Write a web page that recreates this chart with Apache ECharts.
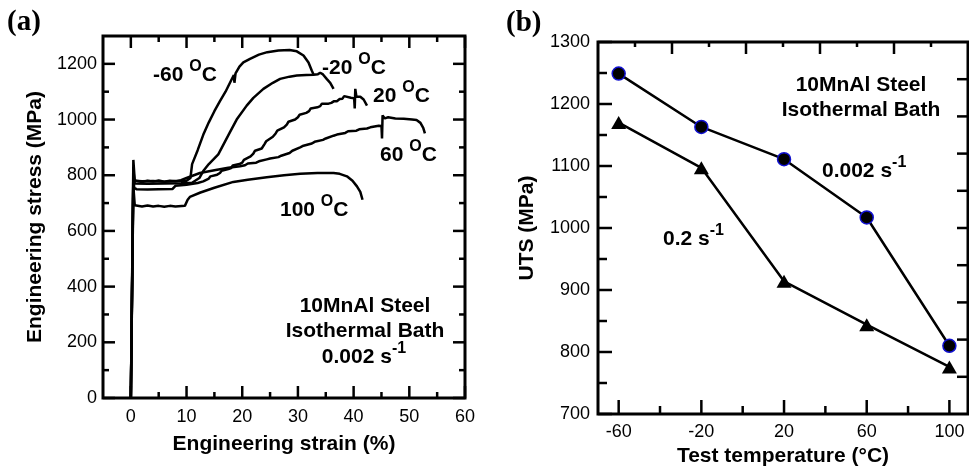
<!DOCTYPE html>
<html>
<head>
<meta charset="utf-8">
<script src="https://cdn.jsdelivr.net/npm/echarts@6/dist/echarts.min.js"></script>
<style>
    html, body {margin: 0; padding: 0; background: #fff;}
    #chart {width: 969px; height: 472px;}
</style>
</head>
<body>
<div id="chart"></div>
<script>
// (a) engineering stress-strain curves, [strain %, stress MPa]
let curveM60 = [[0, 0], [0.45, 855], [0.7, 780], [2, 778], [4, 779], [6, 777], [8, 779], [10, 780], [10.7, 790],
    [11, 840], [12, 890], [13, 945], [14, 990], [15, 1030], [16, 1066], [17, 1100], [18, 1140], [18.5, 1160],
    [18.6, 1132], [18.8, 1166], [19.5, 1190], [20.2, 1205], [21.4, 1218], [23, 1233], [24.5, 1242], [26.5, 1248],
    [28.5, 1250], [29.8, 1245], [31, 1230], [31.9, 1205], [32.5, 1175], [32.8, 1162]];
let curveM20 = [[0, 0], [0.45, 820], [0.7, 770], [3, 769], [6, 770], [9, 771], [11, 773], [12.3, 790], [13, 815],
    [14, 840], [15.7, 875], [17.8, 955], [19, 1000], [20.8, 1050], [22, 1078], [23.8, 1110], [25.5, 1132],
    [26.8, 1146], [28.5, 1154], [29.8, 1158], [31.5, 1160], [32.8, 1161], [33.6, 1163], [34, 1168], [34.5, 1162],
    [35.2, 1145], [35.8, 1132], [36.4, 1110]];
let curve20 = [[0, 0], [0.45, 800], [0.6, 755], [1, 750], [3, 749], [5, 750], [7.5, 751], [8, 762], [10, 766],
    [12, 772], [13, 778], [14, 788], [14.3, 796], [14.5, 790], [15.5, 802], [16, 808], [16.3, 816], [16.5, 810],
    [17.5, 822], [18, 826], [18.3, 835], [18.5, 829], [19.5, 840], [20, 845], [20.3, 855], [20.5, 850], [21.5, 868],
    [22, 878], [22.3, 888], [22.5, 881], [23.5, 896], [24, 912], [24.3, 922], [24.5, 916], [25.5, 938], [26, 950],
    [26.3, 960], [26.5, 954], [27.5, 972], [28, 982], [28.3, 992], [28.5, 986], [29.5, 1000], [30, 1008],
    [30.3, 1017], [30.5, 1011], [31.5, 1024], [32, 1030], [32.3, 1040], [32.5, 1033], [33.5, 1044], [34, 1048],
    [34.3, 1057], [34.5, 1051], [35.5, 1057], [36, 1060], [36.5, 1066], [37, 1066], [37.5, 1074], [38, 1075],
    [38.3, 1084], [38.5, 1077], [39.5, 1078], [40.1, 1076], [40.2, 1040], [40.3, 1110], [40.5, 1082],
    [41.2, 1082], [41.8, 1072], [42.4, 1050]];
let curve60 = [[0, 0], [0.45, 790], [0.6, 782], [1, 780], [2, 776], [3, 780], [4, 777], [5, 781], [6, 777],
    [7, 780], [8, 778], [9, 782], [10, 790], [12.4, 808], [15, 818], [17.5, 827], [19.6, 832], [20.5, 836],
    [21, 842], [21.3, 837], [22.5, 845], [23, 850], [23.3, 845], [24.4, 857], [25, 860], [25.3, 856], [26.5, 865],
    [27, 870], [27.3, 866], [28.5, 880], [29, 888], [29.3, 884], [30.4, 900], [31, 906], [31.3, 901], [32.5, 914],
    [33, 920], [33.3, 916], [34.5, 927], [35, 932], [35.3, 928], [36.4, 942], [37, 946], [37.3, 942], [38.5, 952],
    [39, 958], [39.3, 953], [40.5, 960], [41, 965], [41.3, 961], [42.4, 968], [43, 972], [43.3, 968], [44.5, 978],
    [45, 977], [45.1, 932], [45.2, 1015], [45.6, 1004], [46.2, 1008], [47.5, 1004], [49, 1003], [50.5, 1000],
    [51.3, 998], [52, 988], [52.5, 970], [52.8, 950]];
let curve100 = [[0, 0], [0.45, 760], [0.7, 692], [2, 688], [3, 691], [4, 688], [5, 690], [6, 687], [7, 690],
    [8, 688], [9.7, 690], [10.2, 712], [10.6, 722], [12.5, 738], [15, 755], [18.4, 776], [21, 784], [24.4, 793],
    [27.5, 800], [30.4, 805], [33.5, 808], [36.4, 808], [37.5, 805], [38.8, 796], [39.8, 780], [40.6, 760],
    [41.2, 740], [41.6, 712]];

// (b) UTS vs test temperature
let temps = [-60, -20, 20, 60, 100];
let utsSlow = [1249, 1163, 1111, 1017, 810];   // 0.002 s-1
let utsFast = [1170, 1097, 914, 844, 776];     // 0.2 s-1

// tick values
let aStrainMajor = [0, 10, 20, 30, 40, 50, 60];
let aStrainMinor = [5, 15, 25, 35, 45, 55];
let aStressMajor = [0, 200, 400, 600, 800, 1000, 1200];
let aStressMinor = [100, 300, 500, 700, 900, 1100];
let bTempMajor = [-60, -20, 20, 60, 100];
let bTempMinor = [-40, 0, 40, 80];
let bUtsMajor = [700, 800, 900, 1000, 1100, 1200, 1300];
let bUtsMinor = [750, 850, 950, 1050, 1150, 1250];
let bTopMajor = [2, 4, 6, 8];          // top edge of (b) has its own spacing
let bTopMinor = [1, 3, 5, 7, 9];
let bRight = [850, 900, 950, 1000, 1050, 1100, 1150, 1200, 1250];  // so does the right edge

const FONT = "'Liberation Sans', Arial, sans-serif";
let myChart = echarts.init(document.getElementById('chart'));

function ax(o) {
    return {
        type: 'value',
        gridIndex: o.grid,
        position: o.pos,
        min: o.min,
        max: o.max,
        splitLine: {show: false},
        axisLine: {show: false, onZero: false},
        axisTick: {show: false},
        axisLabel: {show: !!o.labels, customValues: o.labels, color: '#000', fontSize: 18, fontFamily: FONT,
            margin: o.margin || 8, formatter: v => String(v)},
        name: o.name || '',
        nameLocation: 'middle',
        nameGap: o.nameGap || 0,
        nameTextStyle: {color: '#000', fontSize: 21, fontWeight: 'bold', fontFamily: FONT}
    };
}

// inward tick marks, placed through the axes of the grid
function ticks(xi, yi, pts, side, len) {
    return {
        type: 'custom', xAxisIndex: xi, yAxisIndex: yi, data: pts, silent: true, animation: false, z: 4,
        renderItem: (params, api) => {
            let p = api.coord([api.value(0), api.value(1)]);
            let d = {bottom: [0, -len], top: [0, len], left: [len, 0], right: [-len, 0]}[side];
            return {
                type: 'line',
                shape: {x1: p[0], y1: p[1], x2: p[0] + d[0], y2: p[1] + d[1]},
                style: {stroke: '#000', lineWidth: 2.5}
            };
        }
    };
}

const rich = {
    n: {fontSize: 21, fontWeight: 'bold', fontFamily: FONT, fill: '#000', lineHeight: 27, verticalAlign: 'bottom'},
    s: {fontSize: 16, fontWeight: 'bold', fontFamily: FONT, fill: '#000', lineHeight: 16, verticalAlign: 'top'}
};

function txt(x, y, text, align) {
    return {
        type: 'text', x: x, y: y,
        style: {text: text, rich: rich, align: align || 'left', verticalAlign: 'middle', fill: '#000'}
    };
}

function line(x, y, data, extra) {
    return Object.assign({
        type: 'line', xAxisIndex: x, yAxisIndex: y, data: data,
        showSymbol: false, symbol: 'none', animation: false,
        lineStyle: {color: '#000', width: 2.5}
    }, extra || {});
}

const box = {show: true, borderColor: '#000', borderWidth: 3, backgroundColor: 'transparent'};

myChart.setOption({
    animation: false,
    grid: [
        Object.assign({left: 103, top: 36, width: 362, height: 362}, box),
        Object.assign({left: 598, top: 42, width: 370, height: 372}, box)
    ],
    xAxis: [
        ax({grid: 0, pos: 'bottom', min: -5, max: 60, labels: aStrainMajor, margin: 10,
            name: 'Engineering strain (%)', nameGap: 36}),
        ax({grid: 1, pos: 'bottom', min: -70, max: 109, labels: bTempMajor, margin: 9,
            name: 'Test temperature (°C)', nameGap: 32}),
        ax({grid: 1, pos: 'top', min: 0, max: 10})
    ],
    yAxis: [
        ax({grid: 0, pos: 'left', min: 0, max: 1300, labels: aStressMajor, margin: 6,
            name: 'Engineering stress (MPa)', nameGap: 57}),
        ax({grid: 1, pos: 'left', min: 700, max: 1300, labels: bUtsMajor, margin: 8,
            name: 'UTS (MPa)', nameGap: 60}),
        ax({grid: 1, pos: 'right', min: 800, max: 1300})
    ],
    series: [
        line(0, 0, curveM60),
        line(0, 0, curveM20),
        line(0, 0, curve20),
        line(0, 0, curve60),
        line(0, 0, curve100),
        line(1, 1, temps.map((t, i) => [t, utsSlow[i]]), {
            showSymbol: true, symbol: 'circle', symbolSize: 13,
            itemStyle: {color: '#000', borderColor: '#1010d0', borderWidth: 1.5}, z: 3
        }),
        line(1, 1, temps.map((t, i) => [t, utsFast[i]]), {
            showSymbol: true, symbol: 'triangle', symbolSize: [15, 13],
            itemStyle: {color: '#000'}, z: 3
        }),
        // (a) ticks on all four sides
        ticks(0, 0, aStrainMajor.map(v => [v, 0]), 'bottom', 12),
        ticks(0, 0, aStrainMinor.map(v => [v, 0]), 'bottom', 6),
        ticks(0, 0, aStrainMajor.map(v => [v, 1300]), 'top', 12),
        ticks(0, 0, aStrainMinor.map(v => [v, 1300]), 'top', 6),
        ticks(0, 0, aStressMajor.map(v => [-5, v]), 'left', 12),
        ticks(0, 0, aStressMinor.map(v => [-5, v]), 'left', 6),
        ticks(0, 0, aStressMajor.map(v => [60, v]), 'right', 12),
        ticks(0, 0, aStressMinor.map(v => [60, v]), 'right', 6),
        // (b) ticks
        ticks(1, 1, bTempMajor.map(v => [v, 700]), 'bottom', 14),
        ticks(1, 1, bTempMinor.map(v => [v, 700]), 'bottom', 8),
        ticks(1, 1, bUtsMajor.map(v => [-70, v]), 'left', 14),
        ticks(1, 1, bUtsMinor.map(v => [-70, v]), 'left', 9),
        ticks(2, 1, bTopMajor.map(v => [v, 1300]), 'top', 12),
        ticks(2, 1, bTopMinor.map(v => [v, 1300]), 'top', 5),
        ticks(1, 2, bRight.map(v => [109, v]), 'right', 11)
    ],
    graphic: [
        {type: 'text', x: 7, y: 23, style: {text: '(a)', fontSize: 29, fontWeight: 'bold', fontFamily: "'Liberation Serif', 'Times New Roman', serif", fill: '#000', verticalAlign: 'middle'}},
        {type: 'text', x: 506, y: 24, style: {text: '(b)', fontSize: 29, fontWeight: 'bold', fontFamily: "'Liberation Serif', 'Times New Roman', serif", fill: '#000', verticalAlign: 'middle'}},
        txt(153, 72, '{n|-60 }{s|O}{n|C}'),
        txt(322, 65, '{n|-20 }{s|O}{n|C}'),
        txt(373, 93, '{n|20 }{s|O}{n|C}'),
        txt(380, 152, '{n|60 }{s|O}{n|C}'),
        txt(280, 207, '{n|100 }{s|O}{n|C}'),
        txt(365, 303, '{n|10MnAl Steel}', 'center'),
        txt(365, 328, '{n|Isothermal Bath}', 'center'),
        txt(364, 354, '{n|0.002 s}{s|-1}', 'center'),
        txt(861, 82, '{n|10MnAl Steel}', 'center'),
        txt(861, 107, '{n|Isothermal Bath}', 'center'),
        txt(822, 168, '{n|0.002 s}{s|-1}'),
        txt(663, 236, '{n|0.2 s}{s|-1}')
    ]
});
</script>
</body>
</html>
